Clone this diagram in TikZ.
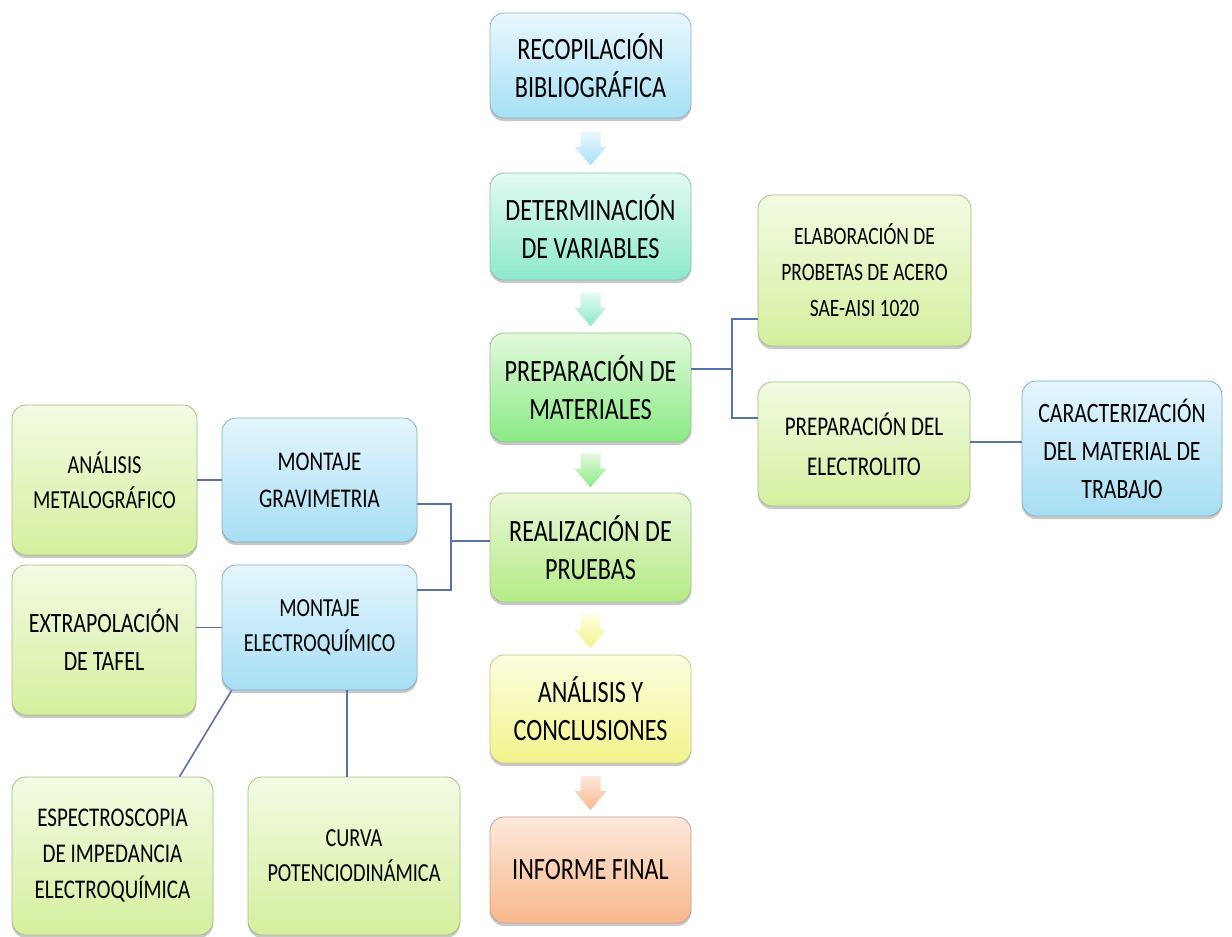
\documentclass[tikz,border=0pt]{standalone}
\usepackage{fontspec}
\setmainfont{Carlito}[FakeStretch=0.78]
\usetikzlibrary{shadows,calc}
\definecolor{conncol}{HTML}{5873A8}
\definecolor{bltop}{HTML}{EAF8FD}\definecolor{blbot}{HTML}{A6E0F5}\definecolor{bldraw}{HTML}{8FB3C4}
\definecolor{aqtop}{HTML}{E3FAF3}\definecolor{aqbot}{HTML}{8DE9CD}\definecolor{aqdraw}{HTML}{8CC2B0}
\definecolor{grtop}{HTML}{E2F9DC}\definecolor{grbot}{HTML}{8AEA84}\definecolor{grdraw}{HTML}{95C08E}
\definecolor{lgtop}{HTML}{EAF8D8}\definecolor{lgbot}{HTML}{B4EB86}\definecolor{lgdraw}{HTML}{A5C48A}
\definecolor{yetop}{HTML}{FDFEE0}\definecolor{yebot}{HTML}{F2F48C}\definecolor{yedraw}{HTML}{C6C68A}
\definecolor{ortop}{HTML}{FDE8DC}\definecolor{orbot}{HTML}{F8B88A}\definecolor{ordraw}{HTML}{C9A08A}
\definecolor{sgtop}{HTML}{F3FBE3}\definecolor{sgbot}{HTML}{D5EF9E}\definecolor{sgdraw}{HTML}{A9BD85}
\definecolor{sbtop}{HTML}{E4F6FD}\definecolor{sbbot}{HTML}{A7DEF4}\definecolor{sbdraw}{HTML}{86ADC0}
\newcommand{\flowarrow}[4]{%
  \begin{scope}[shift={($(#1.south)!0.5!(#2.north)$)}]
    \shade[top color=#3,bottom color=#4] (-10,-14) -- (10,-14) -- (10,1) -- (16,1) -- (0,20) -- (-16,1) -- (-10,1) -- cycle;
  \end{scope}}
\begin{document}
\begin{tikzpicture}[x=1pt,y=-1pt,
  box/.style={rounded corners=14pt, align=center, inner sep=2pt, line width=0.8pt,
    drop shadow={shadow xshift=0pt, shadow yshift=-3pt, opacity=0.3, fill=black!70}},
  mainbox/.style={box, font=\fontsize{31}{38}\selectfont, minimum width=201pt},
  gbox/.style={box, top color=sgtop, bottom color=sgbot, draw=sgdraw, font=\fontsize{26}{35}\selectfont},
  bbox/.style={box, top color=sbtop, bottom color=sbbot, draw=sbdraw, font=\fontsize{26}{35}\selectfont},
  conn/.style={draw=conncol, line width=1.6pt}]
\useasboundingbox[fill=white] (0,0) rectangle (1232,937);
% main column
\node[mainbox, top color=bltop, bottom color=blbot, draw=bldraw, minimum height=105pt] (rb) at (590.5,65.5) {RECOPILACIÓN\\BIBLIOGRÁFICA};
\node[mainbox, top color=aqtop, bottom color=aqbot, draw=aqdraw, minimum height=107pt] (dv) at (590.5,226.5) {DETERMINACIÓN\\DE VARIABLES};
\node[mainbox, top color=grtop, bottom color=grbot, draw=grdraw, minimum height=109pt] (pm) at (590.5,387.5) {PREPARACIÓN DE\\MATERIALES};
\node[mainbox, top color=lgtop, bottom color=lgbot, draw=lgdraw, minimum height=109pt] (rp) at (590.5,547.5) {REALIZACIÓN DE\\PRUEBAS};
\node[mainbox, top color=yetop, bottom color=yebot, draw=yedraw, minimum height=108pt] (ac) at (590.5,709) {ANÁLISIS Y\\CONCLUSIONES};
\node[mainbox, top color=ortop, bottom color=orbot, draw=ordraw, minimum height=106pt] (if) at (590.5,870) {INFORME FINAL};
% right side
\node[gbox, minimum width=213pt, minimum height=151pt, font=\fontsize{25}{36}\selectfont] (el) at (864.5,270.5) {ELABORACIÓN DE\\PROBETAS DE ACERO\\SAE-AISI 1020};
\node[gbox, minimum width=212pt, minimum height=124pt, font=\fontsize{27}{40}\selectfont] (pd) at (864,444) {PREPARACIÓN DEL\\ELECTROLITO};
\node[bbox, minimum width=200pt, minimum height=135pt, font=\fontsize{28}{38}\selectfont] (ca) at (1122,448.5) {CARACTERIZACIÓN\\DEL MATERIAL DE\\TRABAJO};
% left side
\node[gbox, minimum width=185pt, minimum height=150pt] (am) at (104.5,480) {ANÁLISIS\\METALOGRÁFICO};
\node[bbox, minimum width=195pt, minimum height=124pt, font=\fontsize{27}{37}\selectfont] (mg) at (319.5,480) {MONTAJE\\GRAVIMETRIA};
\node[gbox, minimum width=184pt, minimum height=150pt, font=\fontsize{28}{38}\selectfont] (ex) at (104,640) {EXTRAPOLACIÓN\\DE TAFEL};
\node[bbox, minimum width=195pt, minimum height=125pt] (me) at (319.5,627.5) {MONTAJE\\ELECTROQUÍMICO};
\node[gbox, minimum width=201pt, minimum height=158pt, font=\fontsize{27}{36}\selectfont] (es) at (112.5,856) {ESPECTROSCOPIA\\DE IMPEDANCIA\\ELECTROQUÍMICA};
\node[gbox, minimum width=212pt, minimum height=158pt] (cp) at (354,856) {CURVA\\POTENCIODINÁMICA};
% block arrows
\flowarrow{rb}{dv}{bltop}{blbot}
\flowarrow{dv}{pm}{aqtop}{aqbot}
\flowarrow{pm}{rp}{grtop}{grbot}
\flowarrow{rp}{ac}{yetop}{yebot}
\flowarrow{ac}{if}{ortop}{orbot}
% connectors
\coordinate (j1) at (732,369);
\coordinate (j1a) at (732,319);
\coordinate (j1b) at (732,418);
\coordinate (j3) at (996,442);
\coordinate (j2) at (451,541);
\coordinate (j2a) at (451,504);
\coordinate (j2b) at (451,590);
\coordinate (k3) at (347,0);
\draw[conn] (pm.east |- j1) -- (j1);
\draw[conn] (j1a -| el.west) -- (j1a) -- (j1b) -- (j1b -| pd.west);
\draw[conn] (j3 -| pd.east) -- (j3 -| ca.west);
\draw[conn] (am) -- (mg);
\draw[conn] (ex.east |- me) -- (me);
\draw[conn] (j2a -| mg.east) -- (j2a) -- (j2b) -- (j2b -| me.east);
\draw[conn] (j2) -- (j2 -| rp.west);
\draw[conn] ($(me.south west)+(10,0)$) -- ($(es.north west)+(168,0)$);
\draw[conn] (k3 |- me.south) -- (k3 |- cp.north);
\end{tikzpicture}
\end{document}
